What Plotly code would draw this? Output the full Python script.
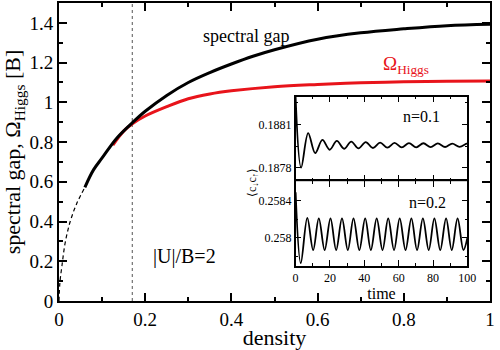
import plotly.graph_objects as go

# ---------------- data ----------------
gap_solid_x = [0.06, 0.08, 0.1, 0.133, 0.171, 0.2, 0.25, 0.3, 0.35, 0.4, 0.45, 0.5, 0.6, 0.7, 0.8, 0.9, 1.0]
gap_solid_y = [0.572, 0.66, 0.72, 0.817, 0.899, 0.955, 1.035, 1.10, 1.15, 1.193, 1.232, 1.265, 1.318, 1.35, 1.37, 1.386, 1.393]

gap_dash_x = [0.0, 0.002, 0.007, 0.0144, 0.026, 0.041, 0.06]
gap_dash_y = [0.0, 0.09, 0.18, 0.294, 0.40, 0.49, 0.572]

higgs_x = [0.125, 0.15, 0.171, 0.2, 0.25, 0.3, 0.35, 0.4, 0.5, 0.6, 0.7, 0.8, 0.9, 1.0]
higgs_y = [0.785, 0.855, 0.893, 0.931, 0.978, 1.018, 1.042, 1.058, 1.079, 1.09, 1.098, 1.103, 1.106, 1.108]

critical_density = 0.17

# inset n=0.1
t_n01 = [0.0, 3.2, 7.3, 11.4, 15.6, 19.8, 24.0, 28.2, 32.4, 36.6, 40.8, 45.0, 49.2, 53.4, 57.6,
         61.8, 66.0, 70.2, 74.4, 78.6, 82.8, 87.0, 91.2, 95.4, 99.6, 100.0]
v_n01 = [0.18829, 0.18780, 0.188040, 0.187900, 0.187992, 0.187924, 0.187985, 0.187931, 0.187981,
         0.187933, 0.187977, 0.187936, 0.187974, 0.187938, 0.187972, 0.187940, 0.187970, 0.187941,
         0.187969, 0.187942, 0.187968, 0.187943, 0.187967, 0.187944, 0.187966, 0.187965]

# inset n=0.2
t_n02 = [0.0, 3.0, 6.8, 10.2, 13.5, 16.9, 20.3, 23.6, 27.0, 30.4, 33.7, 37.1, 40.5, 43.8, 47.2,
         50.6, 53.9, 57.3, 60.6, 64.0, 67.4, 70.7, 74.1, 77.5, 80.8, 84.2, 87.6, 90.9, 94.3, 97.7, 100.0]
v_n02 = [0.25849, 0.25773, 0.258215, 0.25787, 0.25821, 0.25787, 0.25821, 0.25787, 0.25821, 0.25787,
         0.25821, 0.25787, 0.25821, 0.25787, 0.25821, 0.25787, 0.25821, 0.25787, 0.25821, 0.25787,
         0.25821, 0.25787, 0.25821, 0.25787, 0.25821, 0.25787, 0.25821, 0.25787, 0.25821, 0.25787, 0.25800]

inset1_tickvals = [0.1878, 0.1881]
inset1_ticktext = ["0.1878", "0.1881"]
inset2_tickvals = [0.258, 0.2584]
inset2_ticktext = ["0.258", "0.2584"]

SERIF = "Liberation Serif"

fig = go.Figure()

# main curves
fig.add_trace(go.Scatter(x=[critical_density, critical_density], y=[0, 1.5], mode="lines",
                         line=dict(color="#555555", width=1, dash="dot"), showlegend=False))
fig.add_trace(go.Scatter(x=higgs_x, y=higgs_y, mode="lines", line=dict(color="#e8141b", width=3, shape="spline"),
                         showlegend=False))
fig.add_trace(go.Scatter(x=gap_dash_x, y=gap_dash_y, mode="lines",
                         line=dict(color="black", width=1.2, dash="4px,3px", shape="spline"), showlegend=False))
fig.add_trace(go.Scatter(x=gap_solid_x, y=gap_solid_y, mode="lines",
                         line=dict(color="black", width=3, shape="spline"), showlegend=False))

# insets
fig.add_trace(go.Scatter(x=t_n01, y=v_n01, mode="lines", xaxis="x2", yaxis="y2",
                         line=dict(color="black", width=1.8, shape="spline"), showlegend=False))
fig.add_trace(go.Scatter(x=t_n02, y=v_n02, mode="lines", xaxis="x3", yaxis="y3",
                         line=dict(color="black", width=1.8, shape="spline"), showlegend=False))

main_axis_common = dict(showline=True, linecolor="black", linewidth=2, mirror="allticks",
                        ticks="inside", ticklen=8, tickwidth=1.5, tickcolor="black",
                        showgrid=False, zeroline=False,
                        tickfont=dict(family=SERIF, size=19, color="black"))

ix0, ix1 = 0.549, 0.9475
iy_top, iy_mid, iy_bot = 0.686, 0.402, 0.1176

inset_x_common = dict(range=[0, 100], dtick=20, tick0=0, showline=True, linecolor="black", linewidth=1.5,
                      mirror="allticks", ticks="inside", ticklen=6, tickwidth=1.2, tickcolor="black",
                      showgrid=False, zeroline=False,
                      minor=dict(dtick=10, ticks="inside", ticklen=3, tickcolor="black", tickwidth=1.2),
                      tickfont=dict(family=SERIF, size=12, color="black"))
inset_y_common = dict(showline=True, linecolor="black", linewidth=1.5, mirror="allticks",
                      ticks="inside", ticklen=6, tickwidth=1.2, tickcolor="black",
                      showgrid=False, zeroline=False,
                      tickfont=dict(family=SERIF, size=12, color="black"))

fig.update_layout(
    width=500, height=350,
    margin=dict(l=59, r=3, t=1, b=43),
    paper_bgcolor="white", plot_bgcolor="white",
    font=dict(family=SERIF, color="black"),
    xaxis=dict(range=[0, 1], dtick=0.2, tick0=0,
               minor=dict(dtick=0.1, ticks="inside", ticklen=4, tickcolor="black", tickwidth=1.5),
               title=dict(text="density", font=dict(family=SERIF, size=22), standoff=4),
               **main_axis_common),
    yaxis=dict(range=[0, 1.5], dtick=0.2, tick0=0,
               minor=dict(dtick=0.1, ticks="inside", ticklen=4, tickcolor="black", tickwidth=1.5),
               title=dict(text="spectral gap, Ω<sub>Higgs</sub> [B]", font=dict(family=SERIF, size=22), standoff=4),
               **main_axis_common),
    xaxis2=dict(domain=[ix0, ix1], anchor="y2", showticklabels=False, **inset_x_common),
    yaxis2=dict(domain=[iy_mid, iy_top], anchor="x2", range=[0.187705, 0.188294],
                tickvals=inset1_tickvals, ticktext=inset1_ticktext,
                minor=dict(tickvals=[0.18795, 0.18825], ticks="inside", ticklen=3, tickcolor="black", tickwidth=1.2),
                **inset_y_common),
    xaxis3=dict(domain=[ix0, ix1], anchor="y3",
                title=dict(text="time", font=dict(family=SERIF, size=16), standoff=2),
                **inset_x_common),
    yaxis3=dict(domain=[iy_bot, iy_mid], anchor="x3", range=[0.2577, 0.258609],
                tickvals=inset2_tickvals, ticktext=inset2_ticktext,
                minor=dict(tickvals=[0.2578, 0.2582], ticks="inside", ticklen=3, tickcolor="black", tickwidth=1.2),
                **inset_y_common),
)

fig.add_annotation(x=0.433, y=1.332, xref="x", yref="y", text="spectral gap", showarrow=False,
                   font=dict(family=SERIF, size=18, color="black"))
fig.add_annotation(x=0.7475, y=1.19, xref="x", yref="y", text="Ω<sub>Higgs</sub>", showarrow=False,
                   xanchor="left", font=dict(family=SERIF, size=19, color="#e8141b"))
fig.add_annotation(x=0.292, y=0.224, xref="x", yref="y", text="|U|/B=2", showarrow=False,
                   font=dict(family=SERIF, size=20, color="black"))
fig.add_annotation(x=73.1, y=0.188152, xref="x2", yref="y2", text="n=0.1", showarrow=False,
                   font=dict(family=SERIF, size=16, color="black"))
fig.add_annotation(x=76.5, y=0.258384, xref="x3", yref="y3", text="n=0.2", showarrow=False,
                   font=dict(family=SERIF, size=16, color="black"))
fig.add_annotation(x=0.4498, y=0.3987, xref="paper", yref="paper", text="⟨c<sub>↓</sub>c<sub>↑</sub>⟩",
                   textangle=-90, showarrow=False, font=dict(family=SERIF, size=12, color="black"))

fig.write_html("out.html")
